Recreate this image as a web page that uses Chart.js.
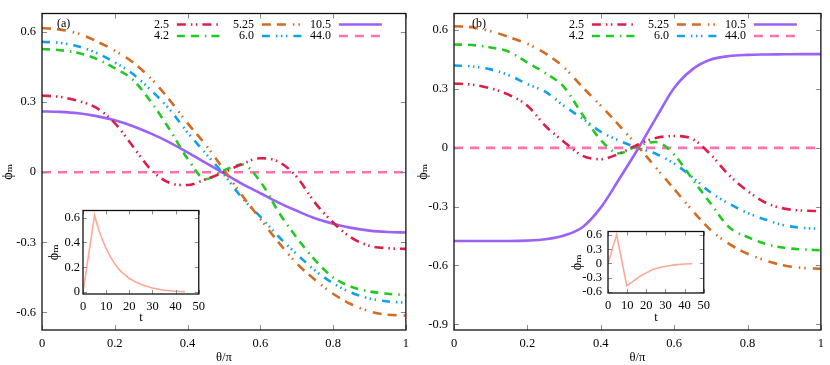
<!DOCTYPE html>
<html>
<head>
<meta charset="utf-8">
<script src="https://cdn.jsdelivr.net/npm/chart.js@4.4.1/dist/chart.umd.min.js"></script>
<style>
  html, body { margin: 0; padding: 0; background: #fff; }
  #wrap { position: relative; width: 830px; height: 365px; }
  .box { position: absolute; }
</style>
</head>
<body>
<div id="wrap">
  <div class="box" style="left:0;top:0;width:415px;height:365px"><canvas id="chartA"></canvas></div>
  <div class="box" style="left:415px;top:0;width:415px;height:365px"><canvas id="chartB"></canvas></div>
  <div class="box" style="left:40px;top:200px;width:170px;height:125px"><canvas id="insetA"></canvas></div>
  <div class="box" style="left:560px;top:218px;width:155px;height:110px"><canvas id="insetB"></canvas></div>
</div>
<script>
// theta / pi sample positions
const theta = [0, 0.05, 0.1, 0.15, 0.2, 0.25, 0.3, 0.35, 0.4, 0.45, 0.5, 0.55, 0.6, 0.65, 0.7, 0.75, 0.8, 0.85, 0.9, 0.95, 1];

// panel (a)
const a_2_5  = [0.328, 0.322, 0.305, 0.275, 0.21, 0.11, 0.01, -0.045, -0.055, -0.03, 0.0, 0.035, 0.06, 0.045, -0.02, -0.13, -0.215, -0.28, -0.315, -0.325, -0.328];
const a_4_2  = [0.527, 0.522, 0.51, 0.485, 0.445, 0.395, 0.30, 0.185, 0.058, -0.03, 0.008, 0.033, -0.04, -0.17, -0.28, -0.375, -0.45, -0.49, -0.51, -0.52, -0.525];
const a_5_25 = [0.617, 0.61, 0.593, 0.56, 0.52, 0.47, 0.40, 0.31, 0.21, 0.117, 0.01, -0.10, -0.20, -0.30, -0.39, -0.46, -0.52, -0.565, -0.595, -0.61, -0.613];
const a_6_0  = [0.558, 0.553, 0.538, 0.51, 0.47, 0.42, 0.35, 0.27, 0.17, 0.08, -0.01, -0.11, -0.19, -0.275, -0.35, -0.42, -0.475, -0.515, -0.54, -0.553, -0.558];
const a_10_5 = [0.26, 0.258, 0.252, 0.24, 0.222, 0.197, 0.165, 0.128, 0.085, 0.04, -0.005, -0.05, -0.09, -0.13, -0.165, -0.197, -0.22, -0.238, -0.25, -0.256, -0.258];
const a_44_0 = [0, 0, 0, 0, 0, 0, 0, 0, 0, 0, 0, 0, 0, 0, 0, 0, 0, 0, 0, 0, 0];

// panel (b)
const b_2_5  = [0.328, 0.322, 0.303, 0.27, 0.215, 0.11, 0.03, -0.04, -0.058, -0.03, 0.015, 0.05, 0.06, 0.045, -0.035, -0.14, -0.22, -0.28, -0.31, -0.32, -0.323];
const b_4_2  = [0.527, 0.524, 0.512, 0.49, 0.435, 0.38, 0.31, 0.17, 0.04, -0.028, 0.012, 0.03, -0.035, -0.16, -0.285, -0.405, -0.455, -0.49, -0.51, -0.518, -0.522];
const b_5_25 = [0.62, 0.615, 0.595, 0.565, 0.53, 0.48, 0.41, 0.31, 0.215, 0.115, 0.01, -0.10, -0.21, -0.32, -0.42, -0.49, -0.54, -0.575, -0.6, -0.612, -0.617];
const b_6_0  = [0.42, 0.415, 0.40, 0.37, 0.325, 0.285, 0.213, 0.15, 0.082, 0.037, 0.0, -0.03, -0.08, -0.15, -0.228, -0.285, -0.332, -0.367, -0.395, -0.408, -0.413];
const b_10_5 = [-0.475, -0.475, -0.475, -0.475, -0.473, -0.466, -0.447, -0.405, -0.305, -0.16, -0.01, 0.15, 0.305, 0.40, 0.45, 0.468, 0.474, 0.476, 0.477, 0.478, 0.478];
const b_44_0 = [0, 0, 0, 0, 0, 0, 0, 0, 0, 0, 0, 0, 0, 0, 0, 0, 0, 0, 0, 0, 0];

// insets: phi_m against t
const insetA_t = [0, 5, 6, 7, 8, 10, 12, 14, 16, 18, 20, 23, 26, 30, 35, 40, 44];
const insetA_v = [0, 0.62, 0.55, 0.49, 0.44, 0.35, 0.28, 0.22, 0.175, 0.14, 0.11, 0.08, 0.055, 0.033, 0.015, 0.007, 0.004];
const insetB_t = [0, 4.5, 9.8, 11, 12, 14, 16, 18, 20, 23, 26, 30, 35, 40, 44];
const insetB_v = [0, 0.61, -0.47, -0.44, -0.41, -0.35, -0.29, -0.24, -0.2, -0.135, -0.095, -0.06, -0.03, -0.012, -0.006];

// ticks
const xTicks = [0, 0.2, 0.4, 0.6, 0.8, 1];
const xTickLabels = ['0', '0.2', '0.4', '0.6', '0.8', '1'];
const yTicksA = [-0.6, -0.3, 0, 0.3, 0.6];
const yTickLabelsA = ['-0.6', '-0.3', '0', '0.3', '0.6'];
const yTicksB = [-0.9, -0.6, -0.3, 0, 0.3, 0.6];
const yTickLabelsB = ['-0.9', '-0.6', '-0.3', '0', '0.3', '0.6'];
const tTicks = [0, 10, 20, 30, 40, 50];
const tTickLabels = ['0', '10', '20', '30', '40', '50'];
const insetYTicksA = [0, 0.2, 0.4, 0.6];
const insetYLabelsA = ['0', '0.2', '0.4', '0.6'];
const insetYTicksB = [-0.6, -0.3, 0, 0.3, 0.6];
const insetYLabelsB = ['-0.6', '-0.3', '0', '0.3', '0.6'];

const labels = ['2.5', '4.2', '5.25', '6.0', '10.5', '44.0'];

// line styles per series
const styles = {
    '2.5':  { color: '#dc1f48', dash: [9, 5, 1.5, 3.5, 1.5, 5] },
    '4.2':  { color: '#22c922', dash: [8, 6, 8, 6, 1.5, 5] },
    '5.25': { color: '#d46b22', dash: [9, 6, 9, 7, 1.5, 4, 1.5, 7] },
    '6.0':  { color: '#12a0e6', dash: [8, 6, 1.5, 3.5, 1.5, 3.5, 1.5, 6] },
    '10.5': { color: '#9b62f5', dash: [] },
    '44.0': { color: '#ff70b4', dash: [9, 7] }
};

const FONT = "'Liberation Serif', 'DejaVu Serif', serif";

// frame with inward ticks, legend and panel tag
const framePlugin = {
    id: 'frame',
    afterDatasetsDraw(chart, args, opts) {
        const { ctx, chartArea: area, scales } = chart;
        const xs = scales.x, ys = scales.y;
        ctx.save();
        ctx.lineWidth = 1;
        ctx.strokeStyle = '#8a8a8a';
        ctx.setLineDash([]);
        ctx.beginPath();
        xs.ticks.forEach(t => {
            const px = Math.round(xs.getPixelForValue(t.value)) + 0.5;
            ctx.moveTo(px, area.bottom); ctx.lineTo(px, area.bottom - opts.tick);
            ctx.moveTo(px, area.top); ctx.lineTo(px, area.top + opts.tick);
        });
        ys.ticks.forEach(t => {
            const py = Math.round(ys.getPixelForValue(t.value)) + 0.5;
            ctx.moveTo(area.left, py); ctx.lineTo(area.left + opts.tick, py);
            ctx.moveTo(area.right, py); ctx.lineTo(area.right - opts.tick, py);
        });
        ctx.stroke();
        ctx.strokeStyle = '#111';
        ctx.lineWidth = 1.3;
        ctx.strokeRect(area.left, area.top, area.width, area.height);

        ctx.fillStyle = '#000';
        if (opts.tag) {
            ctx.font = '12px ' + FONT;
            ctx.textAlign = 'left';
            ctx.textBaseline = 'middle';
            ctx.fillText(opts.tag, area.left + opts.tagX, area.top + 10);
        }
        if (opts.legend) {
            const rows = [['2.5', '5.25', '10.5'], ['4.2', '6.0', '44.0']];
            const cols = [-237, -152, -75];
            ctx.font = '12px ' + FONT;
            ctx.textAlign = 'right';
            ctx.textBaseline = 'middle';
            rows.forEach((row, r) => {
                const y = area.top + 11 + r * 11.5;
                row.forEach((lab, c) => {
                    const x = area.right + cols[c];
                    const st = styles[lab];
                    ctx.fillText(lab, x, y);
                    ctx.strokeStyle = st.color;
                    ctx.lineWidth = 2.5;
                    ctx.setLineDash(st.dash);
                    ctx.beginPath();
                    ctx.moveTo(x + 8, y);
                    ctx.lineTo(x + 51, y);
                    ctx.stroke();
                });
            });
            ctx.setLineDash([]);
        }
        ctx.restore();
    }
};

function makeSeries(values, label) {
    const st = styles[label];
    return {
        label: label,
        data: theta.map((t, i) => ({ x: t, y: values[i] })),
        borderColor: st.color,
        borderDash: st.dash,
        borderWidth: 2.6,
        borderCapStyle: 'butt',
        pointRadius: 0,
        fill: false,
        cubicInterpolationMode: 'monotone'
    };
}

function fixTicks(values) {
    return (scale) => { scale.ticks = values.map(v => ({ value: v })); };
}

function mainChart(id, series, yMin, yMax, yTicks, yLabels, yWidth, padRight, tag, tagX) {
    return new Chart(document.getElementById(id), {
        type: 'line',
        data: { datasets: series.map((vals, i) => makeSeries(vals, labels[i])) },
        options: {
            responsive: true,
            maintainAspectRatio: false,
            animation: false,
            layout: { padding: { top: 5, right: padRight, left: 0, bottom: 0 } },
            plugins: {
                legend: { display: false },
                tooltip: { enabled: false },
                frame: { tick: 5, legend: true, tag: tag, tagX: tagX }
            },
            scales: {
                x: {
                    type: 'linear', min: 0, max: 1,
                    afterBuildTicks: fixTicks(xTicks),
                    afterFit: (s) => { s.height = 35; },
                    grid: { display: false, drawTicks: false },
                    border: { display: false },
                    ticks: { color: '#000', padding: 6, autoSkip: false, font: { family: FONT, size: 12.5 },
                        maxRotation: 0, callback: (v, i) => xTickLabels[i] },
                    title: { display: true, text: 'θ/π', color: '#000', padding: 0,
                        font: { family: FONT, size: 12.5 } }
                },
                y: {
                    type: 'linear', min: yMin, max: yMax,
                    afterBuildTicks: fixTicks(yTicks),
                    afterFit: (s) => { s.width = yWidth; },
                    grid: { display: false, drawTicks: false },
                    border: { display: false },
                    ticks: { color: '#000', padding: 6, autoSkip: false, font: { family: FONT, size: 12.5 },
                        callback: (v, i) => yLabels[i] },
                    title: { display: true, text: 'ϕₘ', color: '#000', padding: { top: 0, bottom: 0 },
                        font: { family: FONT, size: 14 } }
                }
            }
        },
        plugins: [framePlugin]
    });
}

function insetChart(id, ts, vs, yMin, yMax, yTicks, yLabels, yWidth, xHeight, padTop, padRight, yTitlePad, xTitlePad, yLabelPad) {
    return new Chart(document.getElementById(id), {
        type: 'line',
        data: {
            datasets: [{
                data: ts.map((t, i) => ({ x: t, y: vs[i] })),
                borderColor: '#ffa898',
                borderWidth: 1.6,
                pointRadius: 0,
                fill: false,
                tension: 0
            }]
        },
        options: {
            responsive: true,
            maintainAspectRatio: false,
            animation: false,
            layout: { padding: { top: padTop, right: padRight, left: 0, bottom: 0 } },
            plugins: {
                legend: { display: false },
                tooltip: { enabled: false },
                frame: { tick: 4, legend: false }
            },
            scales: {
                x: {
                    type: 'linear', min: 0, max: 50,
                    afterBuildTicks: fixTicks(tTicks),
                    afterFit: (s) => { s.height = xHeight; },
                    grid: { display: false, drawTicks: false },
                    border: { display: false },
                    ticks: { color: '#000', padding: 5, autoSkip: false, font: { family: FONT, size: 12.5 },
                        maxRotation: 0, callback: (v, i) => tTickLabels[i] },
                    title: { display: true, text: 't', color: '#000', padding: { top: 0, bottom: xTitlePad },
                        font: { family: FONT, size: 12.5 } }
                },
                y: {
                    type: 'linear', min: yMin, max: yMax,
                    afterBuildTicks: fixTicks(yTicks),
                    afterFit: (s) => { s.width = yWidth; },
                    grid: { display: false, drawTicks: false },
                    border: { display: false },
                    ticks: { color: '#000', padding: yLabelPad, autoSkip: false, font: { family: FONT, size: 12.5 },
                        callback: (v, i) => yLabels[i] },
                    title: { display: true, text: 'ϕₘ', color: '#000', padding: { top: yTitlePad, bottom: 0 },
                        font: { family: FONT, size: 14 } }
                }
            }
        },
        plugins: [framePlugin]
    });
}

mainChart('chartA', [a_2_5, a_4_2, a_5_25, a_6_0, a_10_5, a_44_0],
    -0.675, 0.679, yTicksA, yTickLabelsA, 42, 5, '(a)', 15);
mainChart('chartB', [b_2_5, b_4_2, b_5_25, b_6_0, b_10_5, b_44_0],
    -0.929, 0.685, yTicksB, yTickLabelsB, 39, 7, '(b)', 18);
insetChart('insetA', insetA_t, insetA_v, -0.015, 0.657, insetYTicksA, insetYLabelsA,
    43, 31, 7, 8, 6, 0, 3);
insetChart('insetB', insetB_t, insetB_v, -0.625, 0.675, insetYTicksB, insetYLabelsB,
    48, 35, 6, 8, 9, 3, 6);
</script>
</body>
</html>
